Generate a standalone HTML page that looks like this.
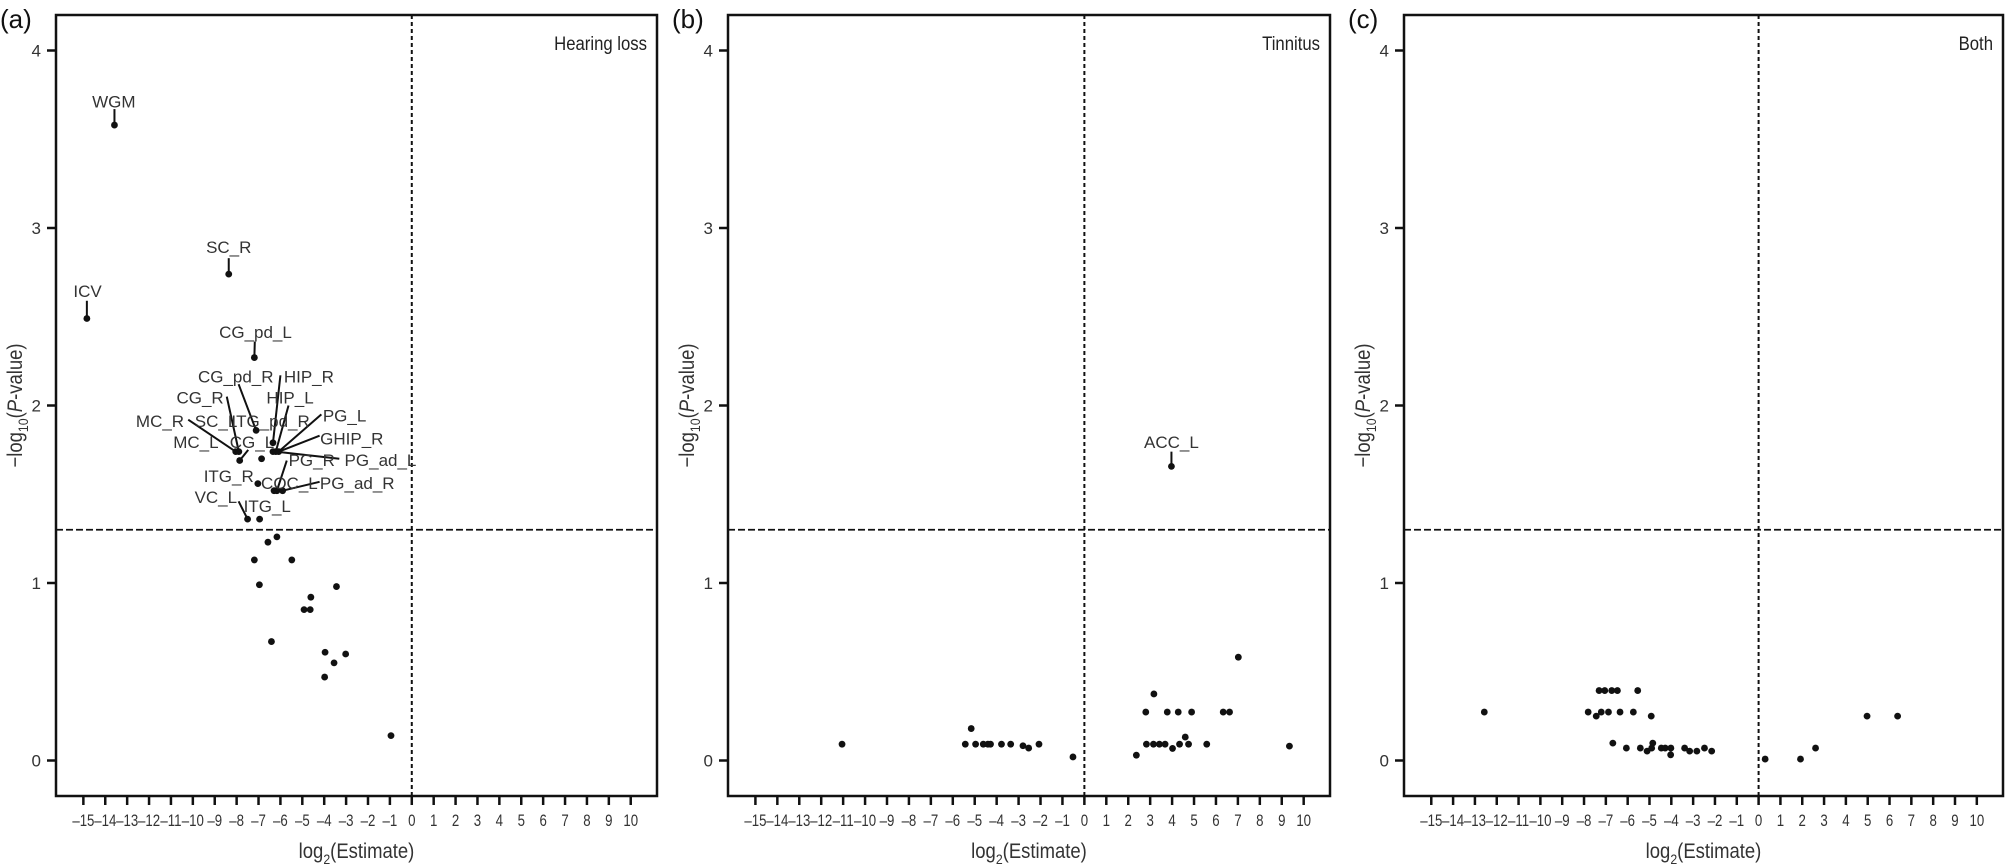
<!DOCTYPE html>
<html><head><meta charset="utf-8">
<style>
html,body{margin:0;padding:0;background:#fff;}
svg{display:block;font-family:"Liberation Sans",sans-serif;}
</style></head>
<body>
<svg id="chart" width="2006" height="865" viewBox="0 0 2006 865" xmlns="http://www.w3.org/2000/svg"></svg>
<script>
// ---------- data ----------
const panelLetters = ["(a)", "(b)", "(c)"];
const panelTitles = ["Hearing loss", "Tinnitus", "Both"];
const xTicks = [-15,-14,-13,-12,-11,-10,-9,-8,-7,-6,-5,-4,-3,-2,-1,0,1,2,3,4,5,6,7,8,9,10];
const yTicks = [0,1,2,3,4];
const sigThreshold = 1.3;

const hearingX = [-13.58,-8.36,-14.84,-7.19,-7.11,-6.34,-8.04,-7.90,-7.86,-6.86,-6.34,-6.21,-6.08,-7.03,-6.29,-6.16,-5.90,-7.50,-6.95,
  -6.16,-6.57,-7.19,-5.48,-6.96,-3.44,-4.61,-4.92,-4.64,-6.41,-3.96,-3.02,-3.55,-3.98,-0.95];
const hearingY = [3.58,2.74,2.49,2.27,1.86,1.79,1.74,1.74,1.69,1.70,1.74,1.74,1.74,1.56,1.52,1.52,1.52,1.36,1.36,
  1.26,1.23,1.13,1.13,0.99,0.98,0.92,0.85,0.85,0.67,0.61,0.60,0.55,0.47,0.14];

const tinnitusX = [-11.05,-5.16,-5.43,-4.96,-4.61,-4.40,-4.28,-3.78,-3.36,-2.80,-2.54,-2.07,-0.52,2.37,2.83,3.15,3.42,3.68,4.02,4.34,4.60,4.75,5.58,9.35,2.80,3.17,3.78,4.28,4.89,6.33,6.62,7.02,3.97];
const tinnitusY = [0.092,0.18,0.092,0.092,0.092,0.092,0.092,0.092,0.092,0.083,0.07,0.092,0.02,0.03,0.092,0.092,0.092,0.092,0.068,0.092,0.132,0.092,0.092,0.081,0.273,0.375,0.273,0.273,0.273,0.273,0.273,0.582,1.657];

const bothX = [-12.57,-7.81,-7.44,-7.21,-6.88,-6.35,-5.74,-4.92,-7.31,-7.05,-6.73,-6.47,-5.54,-6.68,-6.06,-5.42,-5.11,-4.90,-4.85,-4.46,-4.28,-4.02,-4.03,-3.39,-3.16,-2.83,-2.48,-2.15,0.30,1.92,2.61,4.97,6.37];
const bothY = [0.273,0.273,0.25,0.273,0.273,0.273,0.273,0.25,0.394,0.394,0.394,0.394,0.394,0.098,0.07,0.07,0.053,0.07,0.098,0.07,0.07,0.07,0.032,0.07,0.053,0.053,0.07,0.053,0.008,0.008,0.07,0.25,0.25];

// annotation labels (data units): text, label x/y, leader end x/y (null = no leader), point index
const hlLabelText = ["WGM","SC_R","ICV","CG_pd_L","CG_pd_R","HIP_R","CG_R","HIP_L","MC_R","SC_L","ITG_pd_R","PG_L","MC_L","CG_L","GHIP_R","PG_R","PG_ad_L","ITG_R","COC_L","PG_ad_R","VC_L","ITG_L"];
const hlLabelPoint = [0,1,2,3,4,5,7,11,6,null,null,12,8,8,12,15,11,null,null,16,17,null];
const hlLabelX = [-13.61,-8.36,-14.81,-7.14,-8.04,-4.70,-9.67,-5.56,-11.5,-8.94,-6.45,-3.07,-9.86,-7.30,-2.74,-4.57,-1.43,-8.36,-5.59,-2.49,-8.95,-6.60];
const hlLabelY = [3.68,2.86,2.61,2.38,2.13,2.13,2.01,2.01,1.88,1.88,1.88,1.91,1.76,1.76,1.78,1.66,1.66,1.57,1.53,1.53,1.45,1.40];
const hlLeadX = [-13.58,-8.36,-14.84,-7.17,-7.91,-6.0,-8.45,-5.63,-10.21,null,null,-4.13,null,-7.47,-4.21,-5.71,-3.31,null,null,-4.21,-7.91,null];
const hlLeadY = [3.67,2.83,2.59,2.36,2.12,2.17,2.05,2.00,1.92,null,null,1.95,null,1.75,1.83,1.69,1.70,null,null,1.57,1.46,null];

const tnLabelText = ["ACC_L"];
const tnLabelPoint = [32];
const tnLabelX = [3.97];
const tnLabelY = [1.76];
const tnLeadX = [3.97];
const tnLeadY = [1.74];

// ---------- layout ----------
const NS = "http://www.w3.org/2000/svg";
const svg = document.getElementById("chart");
const panelLeft = [56, 728, 1404];
const panelRight = [657, 1330, 2003];
const plotTop = 15, plotBottom = 796;
const xMin = -16.25, xMax = 11.2, yMin = -0.2, yMax = 4.2;

function mk(tag, attrs, parent) {
  const e = document.createElementNS(NS, tag);
  for (const k in attrs) e.setAttribute(k, attrs[k]);
  (parent || svg).appendChild(e);
  return e;
}

function drawPanel(p, xs, ys, lt, lp, lx, ly, ex, ey, slug) {
  const L = panelLeft[p], R = panelRight[p];
  const sx = v => L + (v - xMin) / (xMax - xMin) * (R - L);
  const sy = v => plotBottom - (v - yMin) / (yMax - yMin) * (plotBottom - plotTop);
  const g = mk("g", {});
  
  

  const letter = mk("text", {x: L - 56, y: 28, "font-size": 26, fill: "#111"}, g);
  letter.textContent = panelLetters[p];
  
  

  const title = mk("text", {x: R - 10, y: 50, "font-size": 19, "text-anchor": "end", fill: "#222", transform: `translate(${(R-10)*0.12},0) scale(0.88,1)`}, g);
  title.textContent = panelTitles[p];
  
  

  // reference lines
  const vl = mk("line", {x1: sx(0), x2: sx(0), y1: plotTop, y2: plotBottom, stroke: "#111", "stroke-width": 2, "stroke-dasharray": "4,3"}, g);
  
  
  const hl = mk("line", {x1: L, x2: R, y1: sy(sigThreshold), y2: sy(sigThreshold), stroke: "#111", "stroke-width": 1.8, "stroke-dasharray": "7,3"}, g);
  
  

  // frame
  const fr = mk("rect", {x: L, y: plotTop, width: R - L, height: plotBottom - plotTop, fill: "none", stroke: "#111", "stroke-width": 2.5}, g);
  
  

  // y ticks
  yTicks.forEach(t => {
    const tl = mk("line", {x1: L - 9, x2: L, y1: sy(t), y2: sy(t), stroke: "#111", "stroke-width": 2.5}, g);
    
    
    const tx = mk("text", {x: L - 15, y: sy(t) + 6, "font-size": 17, "text-anchor": "end", fill: "#333"}, g);
    tx.textContent = t;
    
    
  });
  // x ticks
  xTicks.forEach(t => {
    const tl = mk("line", {x1: sx(t), x2: sx(t), y1: plotBottom, y2: plotBottom + 9, stroke: "#111", "stroke-width": 2.5}, g);
    
    
    const tx = mk("text", {x: 0, y: 0, "font-size": 17, "text-anchor": "middle", fill: "#333", transform: `translate(${sx(t)},${plotBottom + 30}) scale(0.78,1)`}, g);
    tx.textContent = t < 0 ? "\u2013" + Math.abs(t) : String(t);
    
    
  });
  // axis titles
  const xt = mk("text", {x: 0, y: 0, "font-size": 21, "text-anchor": "middle", fill: "#333", transform: `translate(${(L + R) / 2},${plotBottom + 62}) scale(0.88,1)`}, g);
  xt.innerHTML = 'log<tspan font-size="14" dy="6">2</tspan><tspan dy="-6">(Estimate)</tspan>';
  
  
  const yt = mk("text", {x: 0, y: 0, "font-size": 21, "text-anchor": "middle", fill: "#333", transform: `translate(${L - 34},${(plotTop + plotBottom) / 2}) rotate(-90) scale(0.88,1)`}, g);
  yt.innerHTML = '\u2212log<tspan font-size="14" dy="6">10</tspan><tspan dy="-6">(</tspan><tspan font-style="italic">P</tspan>-value)';
  
  

  // leader lines
  for (let i = 0; i < lt.length; i++) {
    if (ex[i] === null || lp[i] === null) continue;
    const ln = mk("line", {x1: sx(xs[lp[i]]), y1: sy(ys[lp[i]]), x2: sx(ex[i]), y2: sy(ey[i]), stroke: "#111", "stroke-width": 2}, g);
    
    
  }
  // points
  for (let i = 0; i < xs.length; i++) {
    const c = mk("circle", {cx: sx(xs[i]), cy: sy(ys[i]), r: 3.4, fill: "#111"}, g);
    
    
  }
  // labels
  for (let i = 0; i < lt.length; i++) {
    const tx = mk("text", {x: sx(lx[i]), y: sy(ly[i]), "font-size": 17, "text-anchor": "middle", fill: "#333"}, g);
    tx.textContent = lt[i];
    
    
  }
}

drawPanel(0, hearingX, hearingY, hlLabelText, hlLabelPoint, hlLabelX, hlLabelY, hlLeadX, hlLeadY, "hearing-loss");
drawPanel(1, tinnitusX, tinnitusY, tnLabelText, tnLabelPoint, tnLabelX, tnLabelY, tnLeadX, tnLeadY, "tinnitus");
drawPanel(2, bothX, bothY, [], [], [], [], [], [], "both");
</script>
</body></html>
